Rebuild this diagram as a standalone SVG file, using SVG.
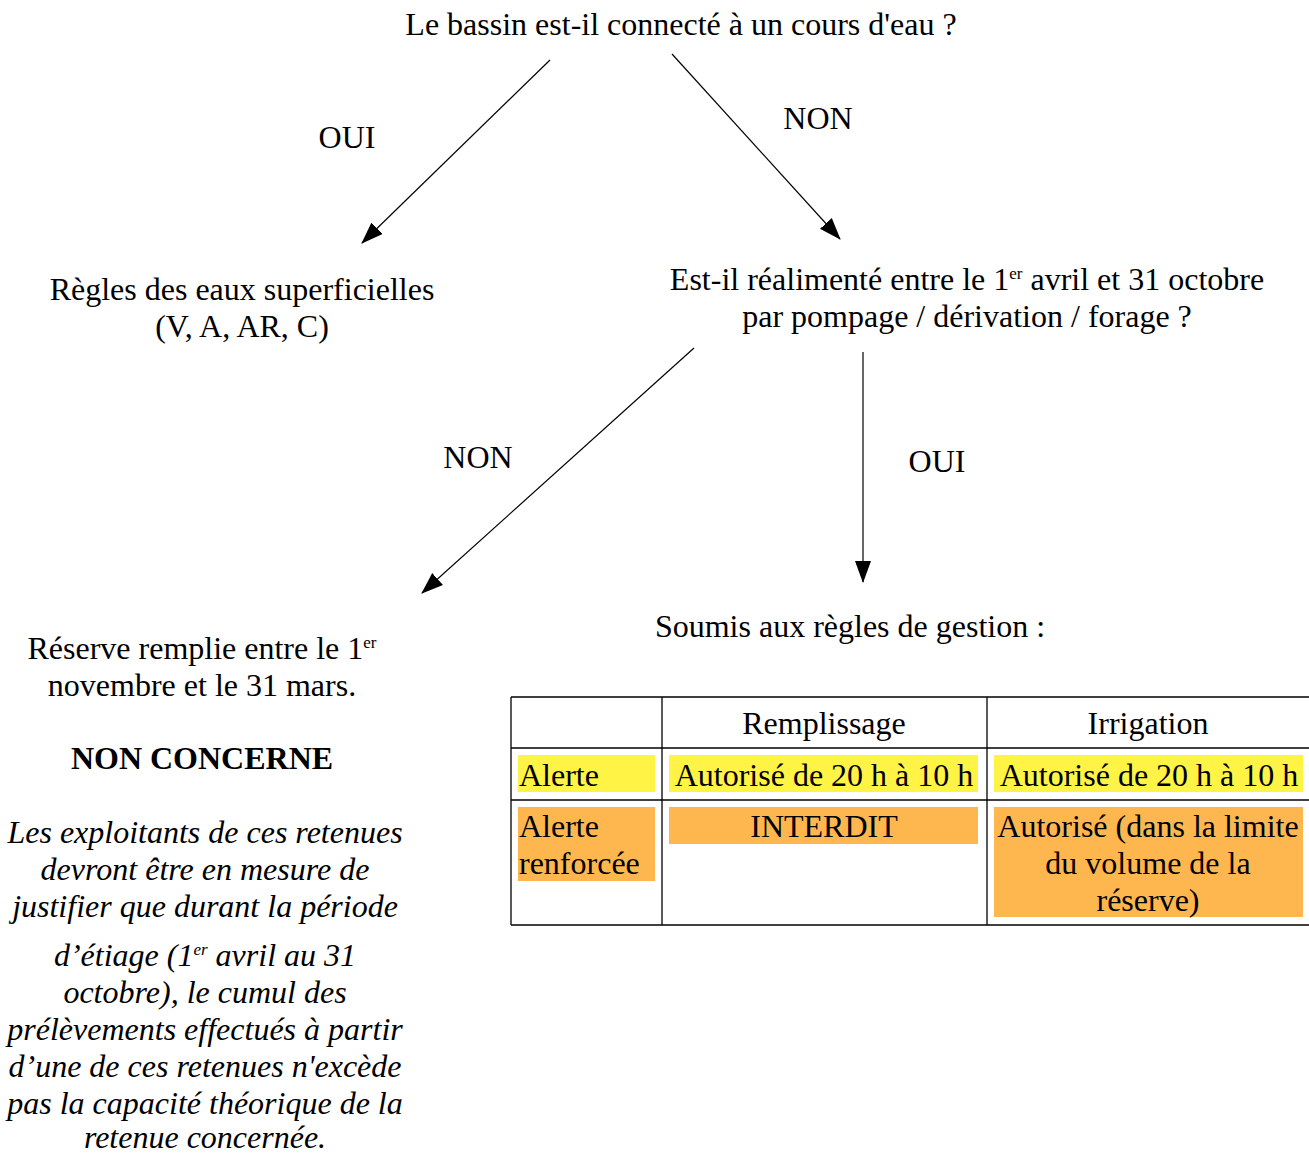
<svg xmlns="http://www.w3.org/2000/svg" width="1309" height="1153" viewBox="0 0 1309 1153">
<defs>
<style>
text{font-family:"Liberation Serif","Times New Roman",serif;font-size:32px;fill:#000}
.m{text-anchor:middle}
.b{font-weight:bold}
.i{font-style:italic}
.sup{font-size:17px}
.conn line{stroke:#000;stroke-width:1.2;marker-end:url(#ah)}
.grid line{stroke:#000;stroke-width:1.3}
.y{fill:#fff345}
.o{fill:#fdb74e}
</style>
<marker id="ah" markerUnits="userSpaceOnUse" markerWidth="22" markerHeight="18" viewBox="0 0 22 18" refX="21" refY="9" orient="auto">
<path d="M0,1 L22,9 L0,17 z" fill="#000"/>
</marker>
</defs>
<rect width="1309" height="1153" fill="#fff"/>

<g id="connectors" class="conn">
<line x1="550" y1="60" x2="362" y2="243"/>
<line x1="672" y1="54" x2="840" y2="239"/>
<line x1="694" y1="348" x2="422" y2="593"/>
<line x1="863" y1="352" x2="863" y2="582"/>
</g>

<g id="edge-labels">
<text x="347" y="148" class="m">OUI</text>
<text x="818" y="129" class="m">NON</text>
<text x="478" y="468" class="m">NON</text>
<text x="937" y="472" class="m">OUI</text>
</g>

<g id="q1">
<text x="681" y="35" class="m">Le bassin est-il connecté à un cours d'eau ?</text>
</g>

<g id="surface">
<text x="242" y="300" class="m">Règles des eaux superficielles</text>
<text x="242" y="337" class="m">(V, A, AR, C)</text>
</g>

<g id="q2">
<text x="967" y="290" class="m">Est-il réalimenté entre le 1<tspan class="sup" dy="-11">er</tspan><tspan dy="11"> avril et 31 octobre</tspan></text>
<text x="967" y="327" class="m">par pompage / dérivation / forage ?</text>
</g>

<g id="non-concerne">
<text x="202" y="659" class="m">Réserve remplie entre le 1<tspan class="sup" dy="-11">er</tspan></text>
<text x="202" y="696" class="m">novembre et le 31 mars.</text>
<text x="202" y="769" class="m b">NON CONCERNE</text>
<g class="i">
<text x="205" y="843" class="m i">Les exploitants de ces retenues</text>
<text x="205" y="880" class="m i">devront être en mesure de</text>
<text x="205" y="917" class="m i">justifier que durant la période</text>
<text x="205" y="966" class="m i">d’étiage (1<tspan class="sup" dy="-11">er</tspan><tspan dy="11"> avril au 31</tspan></text>
<text x="205" y="1003" class="m i">octobre), le cumul des</text>
<text x="205" y="1040" class="m i">prélèvements effectués à partir</text>
<text x="205" y="1077" class="m i">d’une de ces retenues n'excède</text>
<text x="205" y="1114" class="m i">pas la capacité théorique de la</text>
<text x="205" y="1148" class="m i">retenue concernée.</text>
</g>
</g>

<g id="soumis">
<text x="850" y="637" class="m">Soumis aux règles de gestion :</text>
</g>

<g id="table">
<rect class="y" x="518" y="755" width="137" height="37"/>
<rect class="y" x="669" y="755" width="309" height="37"/>
<rect class="y" x="994" y="755" width="309" height="37"/>
<rect class="o" x="518" y="807" width="137" height="74"/>
<rect class="o" x="669" y="807" width="309" height="37"/>
<rect class="o" x="994" y="807" width="309" height="110"/>
<g class="grid">
<line x1="511" y1="697" x2="1309" y2="697"/>
<line x1="511" y1="748" x2="1309" y2="748"/>
<line x1="511" y1="800" x2="1309" y2="800"/>
<line x1="511" y1="925" x2="1309" y2="925"/>
<line x1="511" y1="697" x2="511" y2="925"/>
<line x1="662" y1="697" x2="662" y2="925"/>
<line x1="987" y1="697" x2="987" y2="925"/>
</g>
<text x="824" y="734" class="m">Remplissage</text>
<text x="1148" y="734" class="m">Irrigation</text>
<text x="519" y="786">Alerte</text>
<text x="824" y="786" class="m">Autorisé de 20 h à 10 h</text>
<text x="1149" y="786" class="m">Autorisé de 20 h à 10 h</text>
<text x="519" y="837">Alerte</text>
<text x="519" y="874">renforcée</text>
<text x="824" y="837" class="m">INTERDIT</text>
<text x="1148" y="837" class="m">Autorisé (dans la limite</text>
<text x="1148" y="874" class="m">du volume de la</text>
<text x="1148" y="911" class="m">réserve)</text>
</g>
</svg>
